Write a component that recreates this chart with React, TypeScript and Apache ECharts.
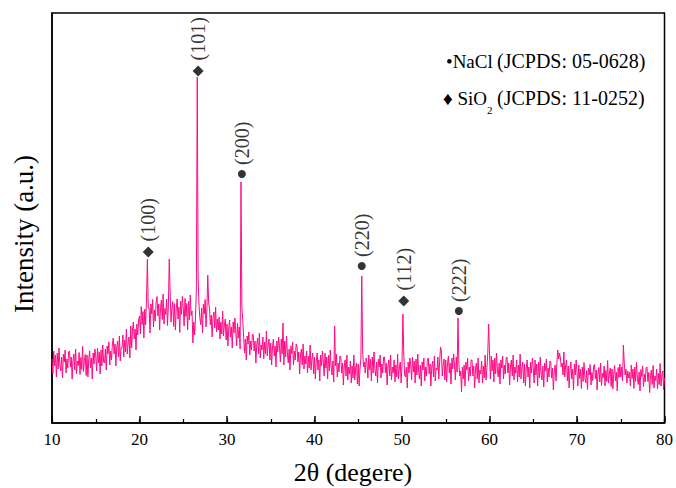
import React, { useEffect, useRef } from "react";
import * as echarts from "echarts";

// XRD scan: 2θ from 10° to 80°, step 0.1°
const scanStart = 10;
const scanStep = 0.1;
const intensity: number[] = [
  640,490,720,570,680,460,700,540,750,580,
  520,660,450,690,610,730,500,640,550,710,
  720,560,660,440,630,690,530,740,490,620,
  575,705,485,655,535,765,515,625,685,475,
  680,460,640,720,550,650,440,700,590,740,
  670,520,750,600,710,490,730,570,780,610,
  600,740,530,770,690,810,580,720,630,790,
  850,690,790,570,760,820,660,870,620,750,
  750,880,660,830,710,940,690,800,860,650,
  970,750,930,1010,840,940,730,990,880,1030,
  1070,890,1165,985,1115,850,1140,980,1240,1640,
  1150,1150,900,1190,1090,1235,960,1130,1020,1210,
  1265,1070,1190,930,1155,1230,1035,1290,990,1145,
  1085,1240,975,1180,1640,1310,1010,1145,1215,965,
  1195,930,1145,1240,1040,1160,905,1220,1085,1265,
  1150,970,1245,1065,1195,930,1220,1030,1280,1075,
  1120,800,1010,880,1060,1350,3460,1450,1180,1050,
  985,1150,900,1190,1090,1235,960,1130,1480,1210,
  1140,980,1080,860,1050,1110,950,1160,910,1040,
  930,1060,840,1010,890,1120,870,980,1040,830,
  990,770,950,1030,860,960,750,1010,900,1050,
  920,770,1000,850,960,740,2410,1150,1030,860,
  700,840,630,870,790,910,680,820,730,890,
  880,720,820,600,790,850,690,900,650,780,
  730,860,640,810,690,920,670,780,840,630,
  800,580,760,840,670,770,560,820,710,860,
  760,610,840,690,1000,580,820,660,870,700,
  600,740,530,770,690,810,580,720,630,790,
  770,610,710,490,680,740,580,790,540,670,
  590,720,500,670,550,780,530,640,700,490,
  660,440,620,700,530,630,420,680,570,720,
  620,470,700,550,660,440,680,520,730,560,
  480,620,410,970,570,690,460,600,510,670,
  660,500,600,380,570,630,470,680,430,560,
  490,620,400,570,450,680,430,540,600,390,
  590,370,550,640,1470,720,560,610,500,650,
  600,450,680,530,640,420,660,500,710,540,
  470,610,400,640,560,680,450,590,500,660,
  660,500,600,380,570,630,470,680,430,560,
  500,630,410,580,460,690,440,550,610,400,
  590,1090,700,480,460,560,350,610,500,650,
  580,430,660,510,620,400,640,480,690,520,
  440,580,370,610,530,650,420,560,470,630,
  650,490,590,370,560,620,460,670,420,550,
  530,660,440,610,760,720,470,580,640,430,
  630,410,590,670,500,600,390,650,540,690,
  580,430,660,510,1050,600,470,520,310,560,
  440,580,370,610,530,650,420,560,470,630,
  630,470,570,350,540,600,440,650,400,530,
  490,620,400,570,450,680,430,540,700,990,
  700,440,670,520,630,410,650,490,700,530,
  460,600,390,630,550,670,440,580,490,650,
  660,500,600,380,570,630,470,680,430,560,
  500,630,410,580,460,690,440,550,610,400,
  590,370,550,630,460,560,350,610,500,650,
  550,400,630,480,590,370,610,450,660,490,
  430,570,360,600,520,640,410,550,460,620,
  610,450,550,330,520,580,420,600,730,640,
  700,650,560,600,480,710,460,570,630,420,
  570,350,530,610,440,540,330,590,480,630,
  505,370,580,445,540,345,560,415,605,450,
  400,525,335,550,480,585,380,505,425,570,
  585,440,530,330,500,555,410,600,375,495,
  455,570,370,525,415,625,400,500,550,365,
  540,340,500,575,420,510,320,555,455,590,
  460,560,420,780,600,480,540,400,520,450,
  505,370,580,445,540,345,560,415,605,450,
  385,510,320,535,465,570,365,490,410,555,
  560,415,505,305,475,530,385,575,350,470,
  425,540,340,495,385,595,370,470,520,335,
  450,
];

// Peak annotations
const naclPeaks = [31.7, 45.4, 56.5];
const naclMarkY = [2490, 1570, 1120];
const naclHkl = ["(200)", "(220)", "(222)"];
const sio2Peaks = [21.0, 26.7, 50.2];
const sio2MarkY = [1710, 3520, 1220];
const sio2Hkl = ["(100)", "(101)", "(112)"];

// Axis ticks
const xMin = 10;
const xMax = 80;
const xMajor = 10;
const xMinor = 5;

const FONT = '"Liberation Serif", "Times New Roman", serif';

export default function App() {
  const ref = useRef<HTMLDivElement>(null);

  useEffect(() => {
    if (!ref.current) return;
    const chart = echarts.init(ref.current, undefined, { renderer: "svg" });

    const lineData = intensity.map((v, i) => [
      Math.round((scanStart + i * scanStep) * 10) / 10,
      v,
    ]);

    const labelStyle = {
      show: true,
      formatter: "{b}",
      position: "top" as const,
      rotate: 90,
      align: "left" as const,
      verticalAlign: "middle" as const,
      distance: 5,
      color: "#000",
      fontFamily: FONT,
      fontSize: 20,
    };

    chart.setOption({
      animation: false,
      backgroundColor: "#fff",
      grid: {
        left: 52,
        right: 10,
        top: 13,
        bottom: 65,
        show: true,
        borderColor: "#000",
        borderWidth: 1.5,
        backgroundColor: "transparent",
      },
      xAxis: [
        {
          type: "value",
          min: xMin,
          max: xMax,
          interval: xMajor,
          axisLine: { show: true, onZero: false, lineStyle: { color: "#000", width: 1.5 } },
          axisTick: { show: true, inside: true, length: 7, lineStyle: { color: "#000", width: 1.5 } },
          axisLabel: { color: "#000", fontFamily: FONT, fontSize: 17, margin: 8 },
          splitLine: { show: false },
        },
        {
          type: "value",
          position: "bottom",
          min: xMin,
          max: xMax,
          interval: xMinor,
          axisLine: { show: false, onZero: false },
          axisTick: { show: true, inside: true, length: 4, lineStyle: { color: "#000", width: 1.2 } },
          axisLabel: { show: false },
          splitLine: { show: false },
        },
      ],
      yAxis: {
        type: "value",
        min: 0,
        max: 4100,
        axisLine: { show: true, lineStyle: { color: "#000", width: 1.5 } },
        axisTick: { show: false },
        axisLabel: { show: false },
        splitLine: { show: false },
      },
      series: [
        {
          type: "line",
          data: lineData,
          showSymbol: false,
          lineStyle: { color: "#ff0a84", width: 1 },
          z: 2,
        },
        {
          type: "scatter",
          symbol: "circle",
          symbolSize: 8,
          itemStyle: { color: "#000" },
          label: labelStyle,
          data: naclPeaks.map((x, i) => ({ name: naclHkl[i], value: [x, naclMarkY[i]] })),
          z: 3,
        },
        {
          type: "scatter",
          symbol: "diamond",
          symbolSize: 11,
          itemStyle: { color: "#000" },
          label: labelStyle,
          data: sio2Peaks.map((x, i) => ({ name: sio2Hkl[i], value: [x, sio2MarkY[i]] })),
          z: 3,
        },
      ],
      graphic: [
        {
          type: "text",
          x: 353,
          y: 472,
          style: {
            text: "2θ (degere)",
            font: `26px ${FONT}`,
            fill: "#000",
            textAlign: "center",
            textVerticalAlign: "middle",
          },
        },
        {
          type: "text",
          x: 24,
          y: 234,
          rotation: Math.PI / 2,
          style: {
            text: "Intensity (a.u.)",
            font: `27px ${FONT}`,
            fill: "#000",
            textAlign: "center",
            textVerticalAlign: "middle",
          },
        },
        {
          type: "text",
          x: 446,
          y: 61,
          style: { text: "•NaCl", font: `19px ${FONT}`, fill: "#000", textVerticalAlign: "middle" },
        },
        {
          type: "text",
          x: 497,
          y: 61,
          style: { text: "(JCPDS: 05-0628)", font: `20px ${FONT}`, fill: "#000", textVerticalAlign: "middle" },
        },
        {
          type: "text",
          x: 443,
          y: 98,
          style: { text: "♦ SiO", font: `19px ${FONT}`, fill: "#000", textVerticalAlign: "middle" },
        },
        {
          type: "text",
          x: 487,
          y: 110,
          style: { text: "2", font: `11px ${FONT}`, fill: "#000", textVerticalAlign: "middle" },
        },
        {
          type: "text",
          x: 497,
          y: 98,
          style: { text: "(JCPDS: 11-0252)", font: `20px ${FONT}`, fill: "#000", textVerticalAlign: "middle" },
        },
      ],
    });

    return () => chart.dispose();
  }, []);

  return (
    <div
      ref={ref}
      style={{ position: "fixed", left: 0, top: 0, width: 676, height: 488, background: "#fff" }}
    />
  );
}
